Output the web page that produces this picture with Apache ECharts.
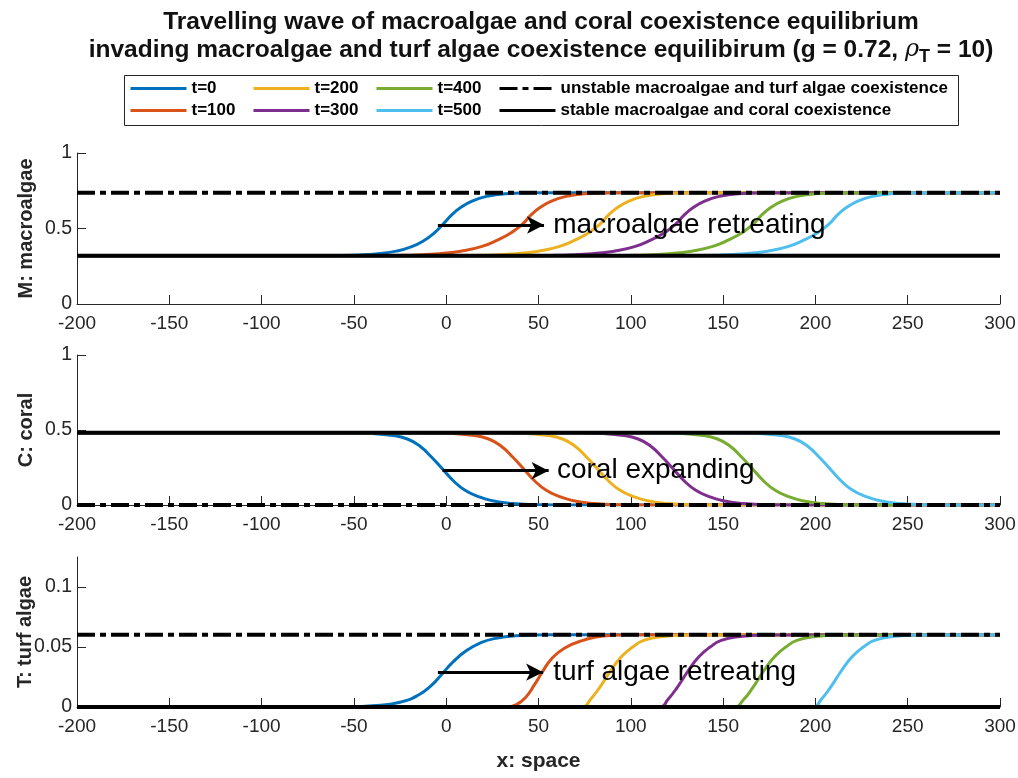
<!DOCTYPE html>
<html>
<head>
<meta charset="utf-8">
<script src="https://cdn.jsdelivr.net/npm/echarts@6/dist/echarts.min.js"></script>
<style>html,body{margin:0;padding:0;background:#fff}#c{width:1018px;height:778px}</style>
</head>
<body>
<div id="c"></div>
<script>
// ---------- data ----------
const timeNames = ['t=0', 't=100', 't=200', 't=300', 't=400', 't=500'];
const timeColors = ['#0072BD', '#D95319', '#EDB120', '#7E2F8E', '#77AC30', '#4DBEEE'];
const unstableName = 'unstable macroalgae and turf algae coexistence';
const stableName = 'stable macroalgae and coral coexistence';
const panelNames = ['M: macroalgae', 'C: coral', 'T: turf algae'];
const xRange = [-200, 300];
const unstableLevels = [0.737, 0, 0.0603];
const stableLevels = [0.32, 0.482, 0];

// M: macroalgae
const M_t0 = [[-200,0.32],[-62,0.32],[-47,0.325],[-37,0.333],[-27,0.35],[-19,0.378],[-12,0.42],[-7,0.465],[-2,0.525],[3,0.59],[8,0.64],[14,0.682],[22,0.713],[32,0.73],[48,0.736],[300,0.737]];
const M_t100 = [[-200,0.32],[-34,0.32],[-17,0.325],[-4,0.333],[8,0.35],[19,0.38],[28,0.425],[35,0.47],[41,0.525],[46,0.59],[51,0.64],[57,0.682],[65,0.713],[75,0.73],[91,0.736],[300,0.737]];
const M_t200 = [[-200,0.32],[8,0.32],[25,0.325],[38,0.333],[50,0.35],[61,0.38],[70,0.425],[77,0.47],[83,0.525],[88,0.59],[93,0.64],[99,0.682],[107,0.713],[117,0.73],[133,0.736],[300,0.737]];
const M_t300 = [[-200,0.32],[49,0.32],[66,0.325],[79,0.333],[91,0.35],[102,0.38],[111,0.425],[118,0.47],[124,0.525],[129,0.59],[134,0.64],[140,0.682],[148,0.713],[158,0.73],[174,0.736],[300,0.737]];
const M_t400 = [[-200,0.32],[91,0.32],[108,0.325],[121,0.333],[133,0.35],[144,0.38],[153,0.425],[160,0.47],[166,0.525],[171,0.59],[176,0.64],[182,0.682],[190,0.713],[200,0.73],[216,0.736],[300,0.737]];
const M_t500 = [[-200,0.32],[132,0.32],[149,0.325],[162,0.333],[174,0.35],[185,0.38],[194,0.425],[201,0.47],[207,0.525],[212,0.59],[217,0.64],[223,0.682],[231,0.713],[241,0.73],[257,0.736],[300,0.737]];

// C: coral
const C_t0 = [[-200,0.482],[-57,0.482],[-42,0.478],[-30,0.465],[-21,0.44],[-14,0.39],[-8,0.32],[-2,0.24],[4,0.16],[10,0.1],[17,0.058],[25,0.028],[36,0.01],[50,0.002],[68,0],[300,0]];
const C_t100 = [[-200,0.482],[-13,0.482],[2,0.478],[14,0.465],[23,0.44],[30,0.39],[36,0.32],[42,0.24],[48,0.16],[54,0.1],[61,0.058],[69,0.028],[80,0.01],[94,0.002],[112,0],[300,0]];
const C_t200 = [[-200,0.482],[27,0.482],[42,0.478],[54,0.465],[63,0.44],[70,0.39],[76,0.32],[82,0.24],[88,0.16],[94,0.1],[101,0.058],[109,0.028],[120,0.01],[134,0.002],[152,0],[300,0]];
const C_t300 = [[-200,0.482],[68,0.482],[83,0.478],[95,0.465],[104,0.44],[111,0.39],[117,0.32],[123,0.24],[129,0.16],[135,0.1],[142,0.058],[150,0.028],[161,0.01],[175,0.002],[193,0],[300,0]];
const C_t400 = [[-200,0.482],[111,0.482],[126,0.478],[138,0.465],[147,0.44],[154,0.39],[160,0.32],[166,0.24],[172,0.16],[178,0.1],[185,0.058],[193,0.028],[204,0.01],[218,0.002],[236,0],[300,0]];
const C_t500 = [[-200,0.482],[153,0.482],[168,0.478],[180,0.465],[189,0.44],[196,0.39],[202,0.32],[208,0.24],[214,0.16],[220,0.1],[227,0.058],[235,0.028],[246,0.01],[260,0.002],[278,0],[300,0]];

// T: turf algae
const T_t0 = [[-200,0],[-55,0],[-40,0.001],[-25,0.004],[-15,0.01],[-8,0.018],[-2,0.028],[4,0.038],[11,0.047],[18,0.053],[26,0.057],[40,0.0595],[55,0.0602],[300,0.0603]];
const T_t100 = [[-200,0],[33,0],[38,0.002],[43,0.008],[48,0.019],[52,0.029],[57,0.04],[64,0.049],[74,0.0555],[85,0.0592],[100,0.0602],[300,0.0603]];
const T_t200 = [[-200,0],[74,0],[78,0.006],[83,0.016],[89,0.03],[95,0.042],[101,0.05],[107,0.0555],[117,0.0588],[130,0.0601],[300,0.0603]];
const T_t300 = [[-200,0],[116,0],[120,0.006],[125,0.016],[131,0.03],[137,0.042],[143,0.05],[149,0.0555],[159,0.0588],[172,0.0601],[300,0.0603]];
const T_t400 = [[-200,0],[156,0],[161,0.006],[166,0.016],[172,0.03],[178,0.042],[184,0.05],[190,0.0555],[200,0.0588],[213,0.0601],[300,0.0603]];
const T_t500 = [[-200,0],[199,0],[203,0.006],[208,0.016],[214,0.03],[220,0.042],[226,0.05],[232,0.0555],[242,0.0588],[255,0.0601],[300,0.0603]];

const panelCurves = [
  [M_t0, M_t100, M_t200, M_t300, M_t400, M_t500],
  [C_t0, C_t100, C_t200, C_t300, C_t400, C_t500],
  [T_t0, T_t100, T_t200, T_t300, T_t400, T_t500]
];

// y-axis ranges and tick values
const yMax = [1, 1, 0.125];
const yInterval = [0.5, 0.5, 0.05];
const yTickValues = [[0, 0.5, 1], [0, 0.5, 1], [0, 0.05, 0.1]];

// annotations (data coordinates)
const arrowStarts = [[-4.5, 0.523], [-2, 0.229], [-4.5, 0.029]];
const arrowEnds = [[53, 0.523], [55.5, 0.229], [52.5, 0.029]];
const annotAnchors = [[58, 0.523], [60, 0.229], [58, 0.029]];
const annotTexts = ['macroalgae retreating', 'coral expanding', 'turf algae retreating'];

// ---------- chart ----------
const FONT = 'Liberation Sans, Arial, Helvetica, sans-serif';
const AX = '#262626';
const gridTops = [153, 355, 557];
const gridHeights = [151, 150, 150];
const yNameGaps = [41, 41, 42];
const dashDot = [18, 5, 6, 5];

const grids = [], xAxes = [], yAxes = [], series = [];
for (let p = 0; p < 3; p++) {
  grids.push({left: 77, right: 18, top: gridTops[p], height: gridHeights[p], containLabel: false, outerBoundsMode: 'none'});
  xAxes.push({
    type: 'value', gridIndex: p, min: xRange[0], max: xRange[1], interval: 50,
    axisLine: {show: true, onZero: false, lineStyle: {color: AX, width: 1}},
    axisTick: {show: true, inside: true, length: 9, lineStyle: {color: AX}},
    axisLabel: {color: AX, fontSize: 19, fontFamily: FONT, margin: 10},
    splitLine: {show: false},
    name: p === 2 ? 'x: space' : '', nameLocation: 'middle', nameGap: 44,
    nameTextStyle: {color: AX, fontSize: 21, fontWeight: 'bold', fontFamily: FONT}
  });
  yAxes.push({
    type: 'value', gridIndex: p, min: 0, max: yMax[p], interval: yInterval[p],
    axisLine: {show: true, onZero: false, lineStyle: {color: AX, width: 1}},
    axisTick: {show: true, inside: true, length: 9, lineStyle: {color: AX}, customValues: yTickValues[p]},
    axisLabel: {color: AX, fontSize: 19.5, fontFamily: FONT, margin: 5, customValues: yTickValues[p]},
    splitLine: {show: false},
    name: panelNames[p], nameLocation: 'middle', nameGap: yNameGaps[p], nameRotate: 90, nameMoveOverlap: false,
    nameTextStyle: {color: AX, fontSize: 20, fontWeight: 'bold', fontFamily: FONT}
  });
  panelCurves[p].forEach((d, i) => {
    series.push({
      name: timeNames[i], type: 'line', xAxisIndex: p, yAxisIndex: p, data: d,
      symbol: 'none', showSymbol: false, smooth: 0.5, silent: true,
      lineStyle: {color: timeColors[i], width: 3}, itemStyle: {color: timeColors[i]}, z: 2
    });
  });
  series.push({
    name: unstableName, type: 'line', xAxisIndex: p, yAxisIndex: p,
    data: [[xRange[0], unstableLevels[p]], [xRange[1], unstableLevels[p]]],
    symbol: 'none', showSymbol: false, silent: true,
    lineStyle: {color: '#000', width: 4, type: dashDot}, itemStyle: {color: '#000'}, z: 3
  });
  series.push({
    name: stableName, type: 'line', xAxisIndex: p, yAxisIndex: p,
    data: [[xRange[0], stableLevels[p]], [xRange[1], stableLevels[p]]],
    symbol: 'none', showSymbol: false, silent: true,
    lineStyle: {color: '#000', width: 4}, itemStyle: {color: '#000'}, z: 3,
    markLine: {
      silent: true, symbol: ['none', 'arrow'], symbolSize: [13, 17],
      lineStyle: {color: '#000', width: 3, type: 'solid'},
      label: {show: false}, animation: false,
      data: [[{coord: arrowStarts[p]}, {coord: arrowEnds[p]}]]
    },
    markPoint: {
      silent: true, symbol: 'circle', symbolSize: 0, animation: false,
      label: {show: true, position: 'right', distance: 0, color: '#000', fontSize: 28, fontFamily: FONT,
        formatter: annotTexts[p]},
      data: [{coord: annotAnchors[p]}]
    }
  });
}

const legendText = {color: '#000', fontSize: 17, fontWeight: 'bold', fontFamily: FONT, lineHeight: 16};
const legendCols = [[timeNames[0], timeNames[1]], [timeNames[2], timeNames[3]], [timeNames[4], timeNames[5]], [unstableName, stableName]];
const legendLefts = [129, 252, 375, 498];
const legends = legendCols.map((d, i) => ({
  data: d, orient: 'vertical', left: legendLefts[i], top: 80, padding: 0,
  itemWidth: 56, itemHeight: 16, itemGap: 5, textStyle: legendText, selectedMode: false,
  itemStyle: {opacity: 0}, lineStyle: {width: 3}
}));

const option = {
  animation: false,
  backgroundColor: '#fff',
  title: {
    text: 'Travelling wave of macroalgae and coral coexistence equilibrium\ninvading macroalgae and turf algae coexistence equilibirum (g = 0.72, {rho|ρ}{sub|T} = 10)',
    left: 536, top: 3, textAlign: 'center',
    textStyle: {
      color: '#111', fontSize: 24.5, fontWeight: 'bold', fontFamily: FONT, lineHeight: 28,
      rich: {
        rho: {fontSize: 24, fontStyle: 'italic', fontWeight: 'normal', fontFamily: 'DejaVu Serif, serif', color: '#111'},
        sub: {fontSize: 18, fontWeight: 'bold', fontFamily: FONT, color: '#111', padding: [14, 0, 0, 0]}
      }
    }
  },
  legend: legends,
  graphic: [{
    type: 'rect', left: 122, top: 73, shape: {width: 834, height: 50},
    style: {fill: 'none', stroke: '#262626', lineWidth: 1}, silent: true
  }],
  grid: grids, xAxis: xAxes, yAxis: yAxes, series: series
};

const chart = echarts.init(document.getElementById('c'), null, {renderer: 'canvas'});
chart.setOption(option);
</script>
</body>
</html>
